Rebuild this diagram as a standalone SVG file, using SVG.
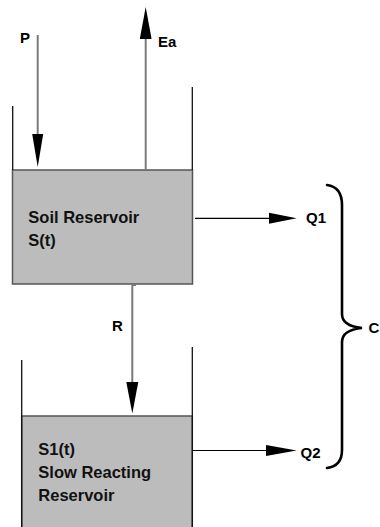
<svg xmlns="http://www.w3.org/2000/svg" width="380" height="527" viewBox="0 0 380 527">
<style>
  .wall{stroke:#111;stroke-width:1.3;fill:none}
  .box{fill:#bcbcbc;stroke:#555;stroke-width:1.5}
  .flow{stroke:#7a7a7a;stroke-width:2;fill:none}
  .out{stroke:#000;stroke-width:1.2;fill:none}
  .head{fill:#000}
  .lbl{font-family:"Liberation Sans",Arial,sans-serif;font-weight:bold;font-size:15px;fill:#000}
  .txt{font-family:"Liberation Sans",Arial,sans-serif;font-weight:bold;font-size:16.5px;fill:#111}
  .brace{stroke:#000;stroke-width:2.6;fill:none;stroke-linecap:round}
</style>
<rect width="380" height="527" fill="#fff"/>
<g id="soil-reservoir">
  <rect class="box" x="12.5" y="170" width="180" height="114"/>
  <path class="wall" d="M12.7,106 V170 M192.3,87 V170"/>
  <text class="txt" x="28.3" y="222.5">Soil Reservoir</text>
  <text class="txt" x="28.3" y="245.5">S(t)</text>
</g>
<g id="slow-reservoir">
  <rect class="box" x="21.7" y="416" width="170.6" height="120"/>
  <path class="wall" d="M21.7,360 V527 M192.3,347 V527"/>
  <text class="txt" x="38.3" y="455">S1(t)</text>
  <text class="txt" x="38.3" y="478.3">Slow Reacting</text>
  <text class="txt" x="38.3" y="500.5">Reservoir</text>
</g>
<g id="connectors">
  <path class="flow" d="M37.7,35 V136"/>
  <polygon class="head" points="32.2,134 43.2,134 37.7,167"/>
  <path class="flow" d="M145.7,170 V37"/>
  <polygon class="head" points="139.8,39 151.6,39 145.7,7"/>
  <path class="flow" d="M136,285 H132.3 V384"/>
  <polygon class="head" points="126.3,382 138.3,382 132.3,413.5"/>
  <path class="out" d="M195,218.3 H271"/>
  <polygon class="head" points="269,212.8 269,223.8 296.7,218.3"/>
  <path class="out" d="M193,450.5 H268"/>
  <polygon class="head" points="266,445 266,456 296.7,450.5"/>
</g>
<g id="labels">
  <text class="lbl" x="20" y="43">P</text>
  <text class="lbl" x="158" y="47">Ea</text>
  <text class="lbl" x="112" y="331">R</text>
  <text class="lbl" x="306" y="223.3">Q1</text>
  <text class="lbl" x="300.5" y="458.3">Q2</text>
  <text class="lbl" x="368.5" y="333.3">C</text>
</g>
<g id="brace">
  <path class="brace" d="M327,185 Q342,187 342,205 L342,314 Q342,326 362,328 Q342,330 342,342 L342,450 Q342,466 327,468"/>
</g>
</svg>
